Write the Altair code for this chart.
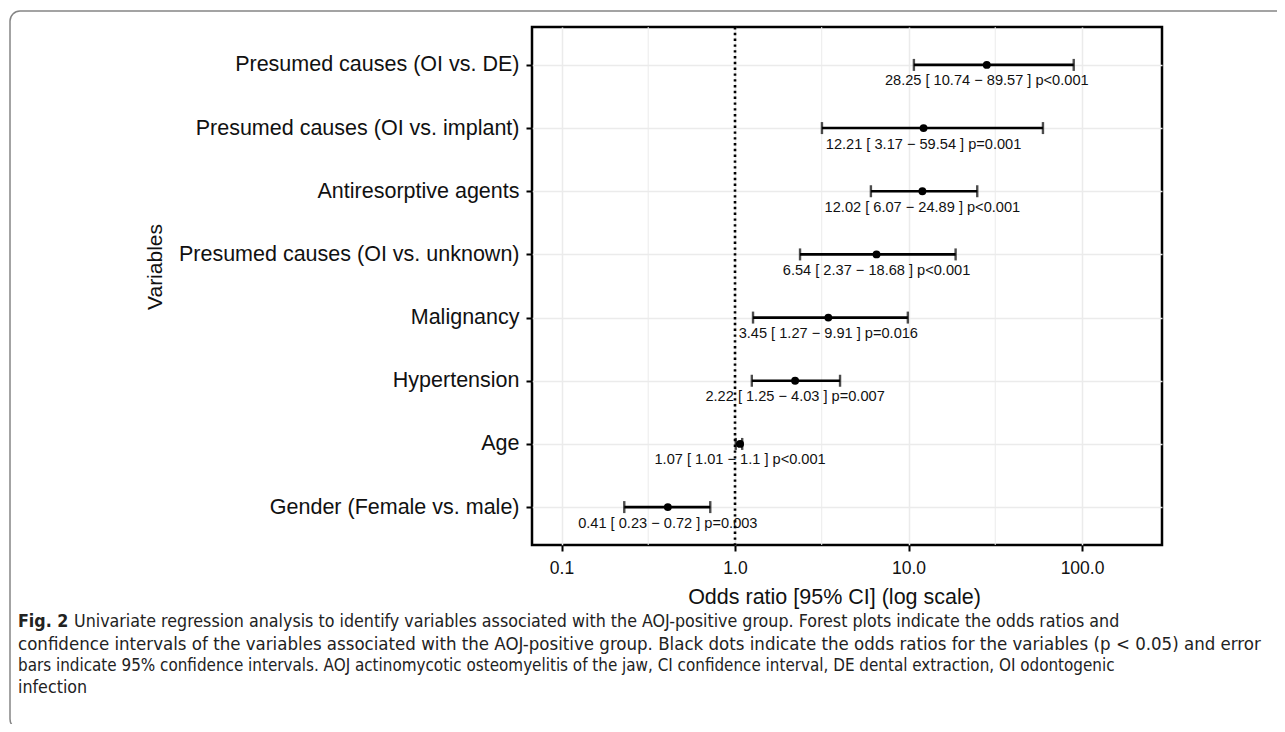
import altair as alt
import pandas as pd

variables = [
    "Presumed causes (OI vs. DE)",
    "Presumed causes (OI vs. implant)",
    "Antiresorptive agents\u00a0",
    "Presumed causes (OI vs. unknown)",
    "Malignancy\u00a0",
    "Hypertension\u00a0",
    "Age",
    "Gender (Female vs. male)",
]
odds = [28.25, 12.21, 12.02, 6.54, 3.45, 2.22, 1.07, 0.41]
ci_low = [10.74, 3.17, 6.07, 2.37, 1.27, 1.25, 1.01, 0.23]
ci_high = [89.57, 59.54, 24.89, 18.68, 9.91, 4.03, 1.1, 0.72]
p_text = ["p<0.001", "p=0.001", "p<0.001", "p<0.001", "p=0.016", "p=0.007", "p<0.001", "p=0.003"]

major_ticks = [0.1, 1, 10, 100]
minor_grid = [0.316, 3.16, 31.6]
ref_line = [1]

cap_bold = "Fig. 2"
cap1 = ("Univariate regression analysis to identify variables associated with the AOJ-positive group. "
        "Forest plots indicate the odds ratios and")
cap2 = ("confidence intervals of the variables associated with the AOJ-positive group. Black dots indicate "
        "the odds ratios for the variables (p < 0.05) and error")
cap3 = ("bars indicate 95% confidence intervals. AOJ actinomycotic osteomyelitis of the jaw, CI confidence "
        "interval, DE dental extraction, OI odontogenic")
cap4 = "infection"

labels = [f"{o} [ {l} \u2212 {h} ] {p}" for o, l, h, p in zip(odds, ci_low, ci_high, p_text)]
df = pd.DataFrame({"variable": variables, "odds": odds, "lo": ci_low, "hi": ci_high, "label": labels})

FONT = "Liberation Sans"
CAPFONT = "DejaVu Sans Condensed, DejaVu Sans, sans-serif"

x_scale = alt.Scale(type="log", domain=[0.0676, 289], nice=False)
y_scale = alt.Scale(type="point", padding=0.6)

x_axis = alt.Axis(
    values=major_ticks, format=".1f", grid=True, gridColor="#EBEBEB", gridWidth=1.5,
    tickSize=6, tickWidth=2, tickColor="black", domain=False,
    labelFontSize=17.5, labelColor="#111", labelPadding=8,
    title="Odds ratio [95% CI] (log scale)", titleFontSize=21.5, titleFontWeight="normal",
    titleColor="#111", titleX=302, titleY=58, titleBaseline="alphabetic", titleAlign="center",
)
y_axis = alt.Axis(
    grid=True, gridColor="#EBEBEB", gridWidth=1.5,
    tickSize=6, tickWidth=2, tickColor="black", domain=False,
    labelFontSize=21.5, labelColor="#111", labelPadding=7, labelLimit=0,
    title="Variables", titleFontSize=21, titleFontWeight="normal", titleColor="#111",
    titleX=-377, titleY=239.5, titleBaseline="middle", titleAlign="center", titleAngle=270,
)

X = lambda f: alt.X(f, scale=x_scale, axis=x_axis)
Y = alt.Y("variable:N", sort=variables, scale=y_scale, axis=y_axis)

base = alt.Chart(df)
dummy = alt.Chart(pd.DataFrame({"a": [0]}))

frame = dummy.mark_rect(fillOpacity=0, stroke="#858585", strokeWidth=1.5, cornerRadius=10).encode(
    x=alt.value(-522), x2=alt.value(770), y=alt.value(-16), y2=alt.value(702)
)

minor = alt.Chart(pd.DataFrame({"g": minor_grid})).mark_rule(color="#EBEBEB", strokeWidth=1).encode(
    x=alt.X("g:Q", scale=x_scale, axis=x_axis)
)
ref = alt.Chart(pd.DataFrame({"r": ref_line})).mark_rule(
    color="black", strokeWidth=2.6, strokeDash=[2.4, 3.4]
).encode(x=alt.X("r:Q", scale=x_scale, axis=x_axis))

bars = base.mark_rule(color="black", strokeWidth=2.6).encode(x=X("lo:Q"), x2="hi:Q", y=Y)
cap_lo = base.mark_tick(color="black", thickness=2.4, size=12).encode(x=X("lo:Q"), y=Y)
cap_hi = base.mark_tick(color="black", thickness=2.4, size=12).encode(x=X("hi:Q"), y=Y)
pts = base.mark_circle(color="black", opacity=1, size=62).encode(x=X("odds:Q"), y=Y)
txt = base.mark_text(dy=16.5, fontSize=14.6, font=FONT, color="#111", baseline="middle").encode(
    x=X("odds:Q"), y=Y, text="label:N"
)

def cap(text, x, y, size, bold=False):
    return dummy.mark_text(
        text=text, align="left", baseline="middle", font=CAPFONT, fontSize=size,
        fontWeight="bold" if bold else "normal", color="#222"
    ).encode(x=alt.value(x), y=alt.value(y))

captions = [
    cap(cap_bold, -514, 595, 17.7, bold=True),
    cap(cap1, -458, 595, 17.7),
    cap(cap2, -514, 617, 18.5),
    cap(cap3, -514, 639, 16.9),
    cap(cap4, -514, 661, 17.7),
]

chart = alt.layer(frame, minor, ref, bars, cap_lo, cap_hi, pts, txt, *captions).properties(
    width=630, height=518,
    autosize=alt.AutoSizeParams(type="none"),
    padding={"left": 524, "top": 19, "right": 115, "bottom": 179},
    background="white",
).configure_view(stroke="black", strokeWidth=2.5).configure_axis(labelFont=FONT, titleFont=FONT)

chart.save("out.html", embed_options={"renderer": "svg", "actions": False})
